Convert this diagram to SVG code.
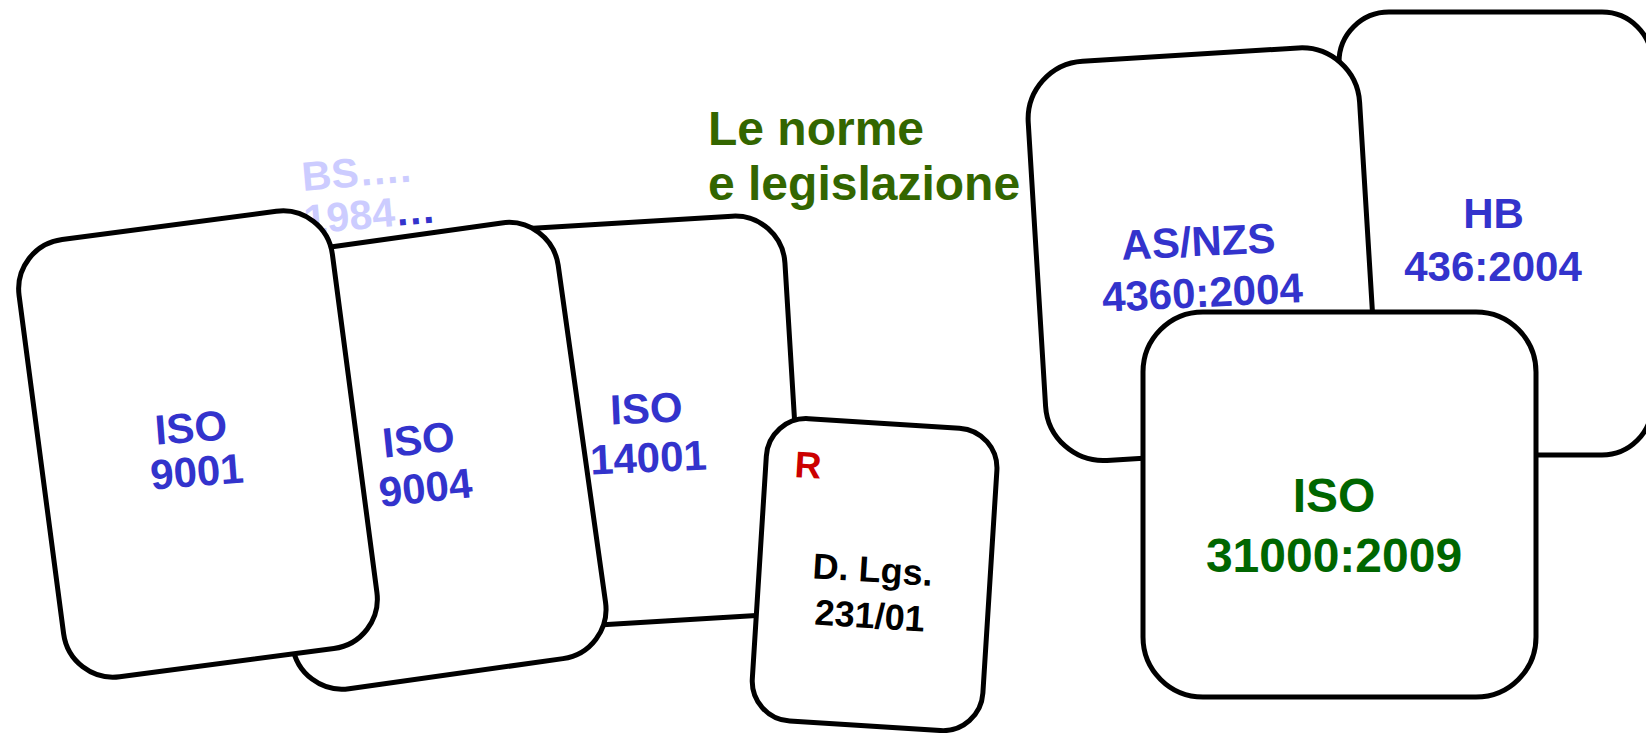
<svg xmlns="http://www.w3.org/2000/svg" width="1646" height="733" viewBox="0 0 1646 733">
<style>
.card{fill:#fff;stroke:#000;stroke-width:5}
text{font-family:"Liberation Sans",Arial,sans-serif;font-weight:bold}
.blue{fill:#3333cc;font-size:42px;text-anchor:middle}
.lav{fill:#ccccff}
.bs{font-size:41px}
.head{fill:#336600;font-size:48px}
.green{fill:#006600;font-size:48px;text-anchor:middle}
.law{fill:#000;font-size:36px;text-anchor:middle}
.red{fill:#cc0000;font-size:37px}
</style>
<rect width="1646" height="733" fill="#fff"/>
<g id="bs-label">
<text class="bs lav" transform="translate(303,191) rotate(-5)">BS….</text>
<text class="bs" transform="translate(305,234) rotate(-5)"><tspan class="lav">1984</tspan><tspan fill="#3333cc">…</tspan></text>
</g>
<g id="connectors"></g>
<g id="iso14001">
<rect class="card" x="-158" y="-200" width="316" height="400" rx="50" transform="translate(636.4,422.4) rotate(-3.5)"/>
<text class="blue" transform="translate(647,423) rotate(-2.5)">ISO</text>
<text class="blue" transform="translate(649,472) rotate(-2.5)">14001</text>
</g>
<g id="iso9004">
<rect class="card" x="-158" y="-220" width="316" height="440" rx="50" transform="translate(425.4,455.8) rotate(-8)"/>
<text class="blue" transform="translate(420,454) rotate(-6)">ISO</text>
<text class="blue" transform="translate(427,502) rotate(-6)">9004</text>
</g>
<g id="iso9001">
<rect class="card" x="-158" y="-220.5" width="316" height="441" rx="50" transform="translate(198,444) rotate(-7.5)"/>
<text class="blue" transform="translate(192,442) rotate(-4.5)">ISO</text>
<text class="blue" transform="translate(198,486) rotate(-4.5)">9001</text>
</g>
<g id="dlgs231">
<rect class="card" x="-115.5" y="-151.5" width="231" height="303" rx="40" transform="translate(874.6,574.6) rotate(3.6)"/>
<text class="red" transform="translate(794,477) rotate(3.6)">R</text>
<text class="law" transform="translate(872,582) rotate(3.6)">D. Lgs.</text>
<text class="law" transform="translate(869,628) rotate(3.6)">231/01</text>
</g>
<g id="title">
<text class="head" x="708" y="145">Le norme</text>
<text class="head" x="708" y="200">e legislazione</text>
</g>
<g id="hb436">
<rect class="card" x="1339" y="12" width="313" height="443" rx="50"/>
<text class="blue" x="1493.5" y="228">HB</text>
<text class="blue" x="1493" y="280.5">436:2004</text>
</g>
<g id="asnzs4360">
<rect class="card" x="-166" y="-200" width="332" height="400" rx="58" transform="translate(1202.6,254.2) rotate(-3.5)"/>
<text class="blue" transform="translate(1199,256) rotate(-2.7)">AS/NZS</text>
<text class="blue" transform="translate(1203,307) rotate(-2.7)">4360:2004</text>
</g>
<g id="iso31000">
<rect class="card" x="1143" y="312" width="393" height="385" rx="60"/>
<text class="green" x="1334" y="512">ISO</text>
<text class="green" x="1334" y="572">31000:2009</text>
</g>
</svg>
